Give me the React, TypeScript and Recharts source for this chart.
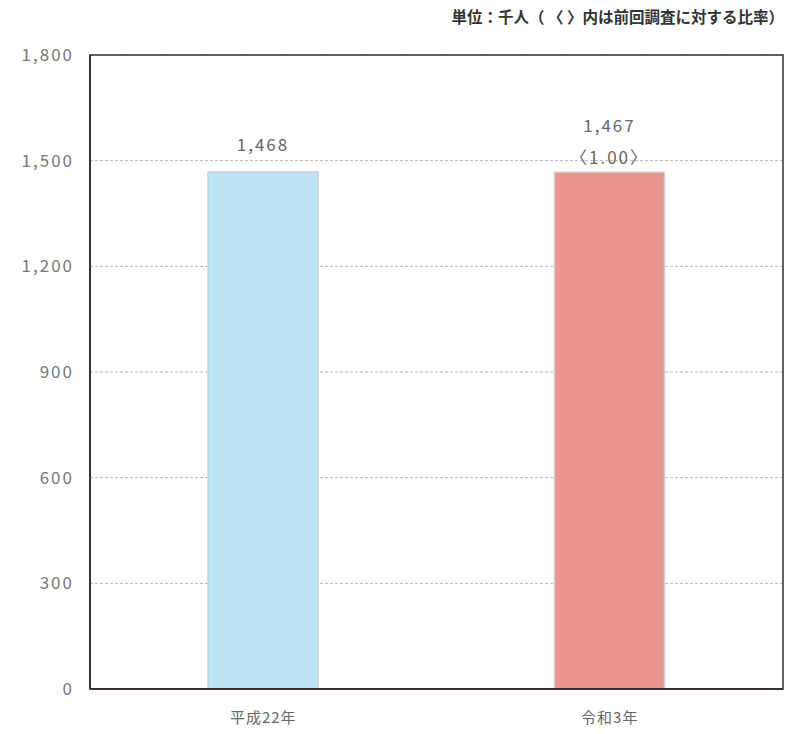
import React from "react";
import { BarChart, Bar, XAxis, YAxis, CartesianGrid, Cell, ReferenceArea } from "recharts";

const CATEGORIES = ["平成22年", "令和3年"];
const VALUES = [1468, 1467];
const RATIOS: (string | null)[] = [null, "1.00"];
const Y_TICKS = [0, 300, 600, 900, 1200, 1500, 1800];
const BAR_COLORS = ["#bde3f7", "#e8968f"];

const data = CATEGORIES.map((name, i) => ({ name, value: VALUES[i] }));

const FONT = "'Noto Sans CJK JP', 'Noto Sans', sans-serif";

const renderLabel = (props: any) => {
  const { x, y, width, index } = props;
  const cx = Number(x) + Number(width) / 2;
  const ratio = RATIOS[index];
  const textStyle = { fontFamily: FONT, fontSize: 17, fill: "#666", letterSpacing: 2 };
  if (ratio) {
    return (
      <g>
        <text x={cx} y={Number(y) - 40} textAnchor="middle" style={textStyle}>
          {VALUES[index].toLocaleString("en-US")}
        </text>
        <text x={cx} y={Number(y) - 8} textAnchor="middle" style={textStyle}>
          {`〈${ratio}〉`}
        </text>
      </g>
    );
  }
  return (
    <text x={cx} y={Number(y) - 21} textAnchor="middle" style={textStyle}>
      {VALUES[index].toLocaleString("en-US")}
    </text>
  );
};

export default function App() {
  return (
    <div style={{ position: "absolute", left: 0, top: 0, width: 786, height: 734, background: "#fff", fontFamily: FONT }}>
      <div
        style={{
          position: "absolute",
          right: 2,
          top: 5,
          fontSize: 15.5,
          fontWeight: 700,
          color: "#333",
          whiteSpace: "pre",
        }}
      >
        単位：千人（ 〈 〉内は前回調査に対する比率）
      </div>
      <BarChart
        width={786}
        height={734}
        data={data}
        margin={{ top: 55, right: 3, bottom: 0, left: 0 }}
      >
        <CartesianGrid vertical={false} stroke="#b5b5b5" strokeDasharray="3 2" />
        <XAxis
          dataKey="name"
          height={45}
          tickSize={0}
          tickMargin={23}
          axisLine={{ stroke: "#3a3030", strokeWidth: 2 }}
          tick={{ fontFamily: FONT, fontSize: 15, fill: "#666", letterSpacing: 1 }}
        />
        <YAxis
          width={90}
          domain={[0, 1800]}
          ticks={Y_TICKS}
          interval={0}
          tickSize={0}
          tickMargin={16}
          axisLine={{ stroke: "#3a3030", strokeWidth: 2 }}
          tickFormatter={(v: number) => v.toLocaleString("en-US")}
          tick={{ fontFamily: FONT, fontSize: 17, fill: "#777", letterSpacing: 2 }}
        />
        <ReferenceArea y1={0} y2={1800} fill="none" stroke="#3a3030" strokeWidth={1.5} ifOverflow="visible" />
        <Bar dataKey="value" barSize={110} stroke="#d0d0d0" strokeWidth={1.5} isAnimationActive={false} label={renderLabel}>
          {data.map((_, i) => (
            <Cell key={i} fill={BAR_COLORS[i]} />
          ))}
        </Bar>
      </BarChart>
    </div>
  );
}
